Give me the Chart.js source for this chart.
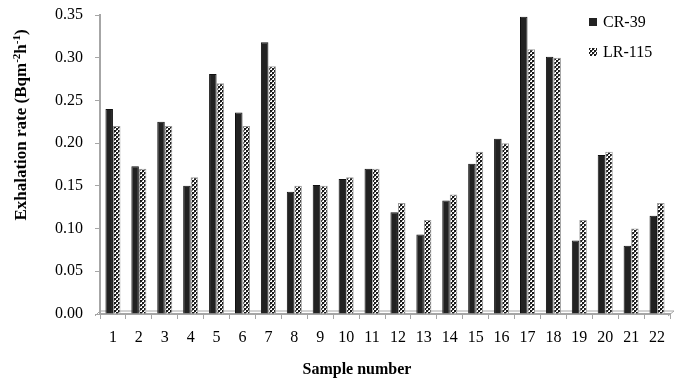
<!DOCTYPE html>
<html>
<head>
<meta charset="utf-8">
<script src="https://cdn.jsdelivr.net/npm/chart.js@4.4.1/dist/chart.umd.min.js"></script>
<style>
  html, body { margin: 0; padding: 0; background: #fff; }
  #wrap { width: 686px; height: 385px; }
</style>
</head>
<body>
<div id="wrap"><canvas id="chart" width="686" height="385"></canvas></div>
<script>
// Sample numbers and exhalation rates
const samples = ['1','2','3','4','5','6','7','8','9','10','11','12','13','14','15','16','17','18','19','20','21','22'];
const cr39 = [0.240, 0.173, 0.225, 0.150, 0.281, 0.236, 0.318, 0.143, 0.151, 0.158, 0.170, 0.119, 0.093, 0.133, 0.176, 0.205, 0.348, 0.301, 0.086, 0.186, 0.080, 0.115];
const lr115 = [0.220, 0.170, 0.220, 0.160, 0.270, 0.220, 0.290, 0.150, 0.150, 0.160, 0.170, 0.130, 0.110, 0.140, 0.190, 0.200, 0.310, 0.300, 0.110, 0.190, 0.100, 0.130];

const serif = "'Liberation Serif', 'Times New Roman', serif";
const axisGrey = '#a6a6a6';

// checkered fill used for LR-115
function makePattern() {
    const c = document.createElement('canvas');
    c.width = 4; c.height = 4;
    const g = c.getContext('2d');
    g.fillStyle = '#fff';
    g.fillRect(0, 0, 4, 4);
    g.fillStyle = '#1a1a1a';
    g.fillRect(0, 0, 2, 2);
    g.fillRect(2, 2, 2, 2);
    g.fillStyle = '#777';
    g.fillRect(2, 0, 1, 1);
    g.fillRect(0, 2, 1, 1);
    return g.createPattern(c, 'repeat');
}
const dots = makePattern();

// axis titles, 3D floor and legend drawn by hand
const extras = {
    id: 'extras',
    beforeDatasetsDraw(chart) {
        const ctx = chart.ctx, a = chart.chartArea;
        ctx.save();
        ctx.strokeStyle = axisGrey;
        ctx.lineWidth = 1;
        ctx.beginPath();
        ctx.moveTo(a.left - 5, a.bottom + 2);
        ctx.lineTo(a.left, a.bottom - 3);
        ctx.lineTo(a.right + 4, a.bottom - 3);
        ctx.lineTo(a.right - 2, a.bottom + 2);
        ctx.stroke();
        ctx.restore();
    },
    afterDraw(chart) {
        const ctx = chart.ctx;
        ctx.save();
        ctx.fillStyle = '#000';
        // y title with superscripts
        ctx.translate(22, 125);
        ctx.rotate(-Math.PI / 2);
        ctx.textBaseline = 'middle';
        const big = 'bold 17px ' + serif, small = 'bold 11px ' + serif;
        const parts = [['Exhalation rate (Bqm', big, 0], ['-2', small, -5], ['h', big, 0], ['-1', small, -5], [')', big, 0]];
        let total = 0;
        parts.forEach(p => { ctx.font = p[1]; total += ctx.measureText(p[0]).width; });
        let x = -total / 2;
        parts.forEach(p => {
            ctx.font = p[1];
            ctx.fillText(p[0], x, p[2]);
            x += ctx.measureText(p[0]).width;
        });
        ctx.setTransform(1, 0, 0, 1, 0, 0);
        // x title
        ctx.font = 'bold 16px ' + serif;
        ctx.textAlign = 'center';
        ctx.textBaseline = 'middle';
        ctx.fillText('Sample number', 357, 370);
        // legend
        ctx.font = '16px ' + serif;
        ctx.textAlign = 'left';
        const ys = [22, 52];
        chart.data.datasets.forEach((ds, i) => {
            ctx.fillStyle = ds.backgroundColor;
            ctx.fillRect(589, ys[i] - 4, 8, 8);
            ctx.fillStyle = '#000';
            ctx.fillText(ds.label, 603, ys[i] + 1);
        });
        ctx.restore();
    }
};

new Chart(document.getElementById('chart'), {
    type: 'bar',
    data: {
        labels: samples,
        datasets: [
            { label: 'CR-39', data: cr39, backgroundColor: '#222222', borderColor: '#111111', borderWidth: 1 },
            { label: 'LR-115', data: lr115, backgroundColor: dots, borderColor: '#999999', borderWidth: 1 }
        ]
    },
    options: {
        responsive: false,
        animation: false,
        layout: { padding: { top: 15, right: 16, left: 0, bottom: 0 } },
        datasets: { bar: { categoryPercentage: 0.58, barPercentage: 1.0 } },
        plugins: { legend: { display: false }, tooltip: { enabled: false } },
        scales: {
            x: {
                afterFit: s => { s.height = 71; },
                grid: { display: true, drawOnChartArea: false, color: axisGrey, tickLength: 5, offset: true },
                border: { color: axisGrey, width: 2 },
                ticks: { color: '#000', font: { family: serif, size: 16 }, padding: 9, maxRotation: 0, autoSkip: false }
            },
            y: {
                min: 0,
                max: 0.35,
                afterFit: s => { s.width = 100; s.paddingTop = 0; s.paddingBottom = 0; },
                grid: { display: true, drawOnChartArea: false, color: axisGrey, tickLength: 5 },
                border: { color: axisGrey, width: 2 },
                ticks: { stepSize: 0.05, color: '#000', font: { family: serif, size: 16 }, padding: 12, callback: v => v.toFixed(2) }
            }
        }
    },
    plugins: [extras]
});
</script>
</body>
</html>
